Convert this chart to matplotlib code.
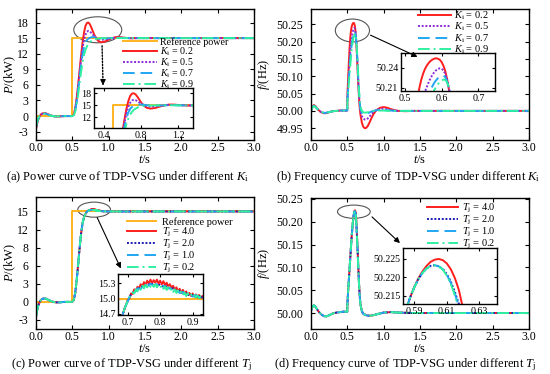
import matplotlib
matplotlib.use('Agg')
import matplotlib.pyplot as plt
from matplotlib.patches import Ellipse, FancyArrowPatch

plt.rcParams['font.family'] = ['Liberation Serif', 'DejaVu Serif']
plt.rcParams['mathtext.fontset'] = 'custom'
plt.rcParams['mathtext.rm'] = 'Liberation Serif'
plt.rcParams['mathtext.it'] = 'Liberation Serif:italic'
plt.rcParams['axes.unicode_minus'] = False

# ---------------- data ----------------
t_ref = [0.0, 0.5, 0.5, 3.0]
p_ref = [0.0, 0.0, 15.0, 15.0]

# (a) power, different Ki
t_a = [0.0, 0.02, 0.04, 0.06, 0.08, 0.1, 0.13, 0.16, 0.2, 0.25, 0.3, 0.35, 0.4, 0.45, 0.5,
       0.52, 0.54, 0.56, 0.58, 0.6, 0.62, 0.64, 0.66, 0.68, 0.7, 0.72, 0.74, 0.76, 0.78, 0.8,
       0.83, 0.86, 0.9, 0.95, 1.0, 1.05, 1.1, 1.15, 1.2, 1.3, 1.4, 1.6, 2.0, 2.5, 3.0]
p_a_ki02 = [-2.5, -1.2, -0.3, 0.2, 0.45, 0.55, 0.55, 0.4, 0.15, -0.05, -0.1, -0.05, 0.0, 0.0, 0.0,
            0.3, 1.5, 3.5, 6.0, 8.8, 11.6, 14.1, 16.0, 17.3, 17.9, 18.0, 17.7, 17.1, 16.4, 15.7,
            14.9, 14.4, 14.2, 14.35, 14.7, 15.0, 15.2, 15.2, 15.1, 14.95, 15.0, 15.0, 15.0, 15.0, 15.0]
p_a_ki05 = [-2.3, -1.1, -0.3, 0.2, 0.4, 0.5, 0.5, 0.35, 0.12, -0.05, -0.08, -0.04, 0.0, 0.0, 0.0,
            0.25, 1.3, 3.2, 5.6, 8.2, 10.8, 13.0, 14.6, 15.6, 16.2, 16.4, 16.3, 16.0, 15.7, 15.4,
            15.0, 14.8, 14.7, 14.75, 14.9, 15.0, 15.1, 15.1, 15.05, 15.0, 15.0, 15.0, 15.0, 15.0, 15.0]
p_a_ki07 = [-2.2, -1.0, -0.25, 0.2, 0.4, 0.48, 0.48, 0.33, 0.1, -0.05, -0.07, -0.03, 0.0, 0.0, 0.0,
            0.2, 1.1, 2.8, 5.0, 7.4, 9.8, 11.8, 13.2, 14.1, 14.6, 14.9, 15.05, 15.15, 15.2, 15.2,
            15.15, 15.05, 15.0, 14.95, 14.97, 15.0, 15.05, 15.05, 15.02, 15.0, 15.0, 15.0, 15.0, 15.0, 15.0]
p_a_ki09 = [-2.0, -0.9, -0.2, 0.2, 0.38, 0.45, 0.45, 0.3, 0.08, -0.05, -0.06, -0.03, 0.0, 0.0, 0.0,
            0.15, 0.9, 2.3, 4.2, 6.4, 8.5, 10.3, 11.7, 12.7, 13.4, 13.9, 14.2, 14.45, 14.6, 14.75,
            14.85, 14.92, 14.97, 15.0, 15.0, 15.0, 15.02, 15.02, 15.0, 15.0, 15.0, 15.0, 15.0, 15.0, 15.0]

# (b) frequency, different Ki
t_b = [0.0, 0.02, 0.04, 0.06, 0.08, 0.1, 0.14, 0.18, 0.22, 0.26, 0.3, 0.35, 0.4, 0.45, 0.499,
       0.501, 0.51, 0.52, 0.53, 0.535, 0.54, 0.545, 0.55, 0.555, 0.56, 0.565, 0.57, 0.575, 0.58, 0.585,
       0.59, 0.595, 0.6, 0.605, 0.61, 0.615, 0.62, 0.625, 0.63, 0.64, 0.65, 0.66, 0.67, 0.68, 0.7,
       0.72, 0.74, 0.76, 0.78, 0.8, 0.83, 0.86, 0.9, 0.95, 1.0, 1.05, 1.1, 1.15, 1.2, 1.3,
       1.4, 1.6, 2.0, 2.5, 3.0]
f_b_ki02 = [50.0, 50.013, 50.017, 50.014, 50.008, 50.003, 49.996, 49.993, 49.994, 49.997, 49.999, 50.0, 50.001, 50.001, 50.001,
            50.045, 50.09, 50.135, 50.178, 50.195, 50.21, 50.222, 50.231, 50.238, 50.243, 50.247, 50.25, 50.252, 50.2535, 50.254,
            50.2535, 50.252, 50.2485, 50.243, 50.235, 50.223, 50.207, 50.19, 50.17, 50.125, 50.08, 50.04, 50.01, 49.99, 49.966,
            49.954, 49.95, 49.951, 49.956, 49.964, 49.978, 49.991, 50.002, 50.009, 50.011, 50.009, 50.005, 50.002, 50.0, 49.999,
            50.0, 50.0, 50.0, 50.0, 50.0]
f_b_ki05 = [50.0, 50.012, 50.016, 50.013, 50.008, 50.003, 49.996, 49.994, 49.995, 49.997, 49.999, 50.0, 50.001, 50.001, 50.001,
            50.035, 50.07, 50.105, 50.14, 50.156, 50.17, 50.184, 50.195, 50.204, 50.211, 50.218, 50.224, 50.229, 50.233, 50.236,
            50.238, 50.239, 50.2385, 50.236, 50.231, 50.222, 50.21, 50.195, 50.177, 50.135, 50.09, 50.05, 50.02, 50.0, 49.985,
            49.978, 49.975, 49.975, 49.978, 49.982, 49.99, 49.997, 50.003, 50.006, 50.006, 50.004, 50.002, 50.001, 50.0, 50.0,
            50.0, 50.0, 50.0, 50.0, 50.0]
f_b_ki07 = [50.0, 50.011, 50.015, 50.012, 50.007, 50.003, 49.997, 49.994, 49.995, 49.997, 49.999, 50.0, 50.001, 50.001, 50.001,
            50.03, 50.06, 50.09, 50.12, 50.134, 50.148, 50.16, 50.172, 50.182, 50.191, 50.199, 50.206, 50.212, 50.217, 50.221,
            50.224, 50.226, 50.2275, 50.228, 50.226, 50.219, 50.209, 50.196, 50.18, 50.14, 50.095, 50.055, 50.025, 50.006, 49.994,
            49.99, 49.99, 49.991, 49.993, 49.995, 49.998, 50.0, 50.002, 50.003, 50.003, 50.002, 50.001, 50.0, 50.0, 50.0,
            50.0, 50.0, 50.0, 50.0, 50.0]
f_b_ki09 = [50.0, 50.01, 50.014, 50.012, 50.007, 50.003, 49.997, 49.995, 49.995, 49.997, 49.999, 50.0, 50.001, 50.001, 50.001,
            50.025, 50.05, 50.078, 50.105, 50.118, 50.13, 50.143, 50.155, 50.166, 50.176, 50.185, 50.193, 50.2, 50.206, 50.211,
            50.215, 50.218, 50.2205, 50.222, 50.222, 50.218, 50.21, 50.198, 50.183, 50.145, 50.1, 50.06, 50.03, 50.012, 50.0,
            49.996, 49.995, 49.995, 49.996, 49.997, 49.999, 50.0, 50.001, 50.001, 50.001, 50.0, 50.0, 50.0, 50.0, 50.0,
            50.0, 50.0, 50.0, 50.0, 50.0]

# (c) power, different Tj
t_c_rise = [0.0, 0.02, 0.04, 0.06, 0.08, 0.1, 0.13, 0.16, 0.2, 0.25, 0.3, 0.35, 0.4, 0.45, 0.5,
            0.52, 0.54, 0.56, 0.58, 0.6, 0.62, 0.64, 0.66, 0.68, 0.69]
p_c_rise = [-2.4, -1.1, -0.3, 0.2, 0.45, 0.55, 0.55, 0.4, 0.15, -0.05, -0.1, -0.05, 0.0, 0.0, 0.0,
            0.3, 1.5, 3.6, 6.2, 8.9, 11.3, 13.0, 14.0, 14.6, 14.8]
t_c_fine = [0.700, 0.705, 0.710, 0.715, 0.720, 0.725, 0.730, 0.735, 0.740, 0.745, 0.750, 0.755,
            0.760, 0.765, 0.770, 0.775, 0.780, 0.785, 0.790, 0.795, 0.800, 0.805, 0.810, 0.815,
            0.820, 0.825, 0.830, 0.835, 0.840, 0.845, 0.850, 0.855, 0.860, 0.865, 0.870, 0.875,
            0.880, 0.885, 0.890, 0.895, 0.900, 0.905, 0.910, 0.915, 0.920, 0.925, 0.930]
t_c_coarse = [0.70, 0.71, 0.72, 0.73, 0.74, 0.75, 0.76, 0.77, 0.78, 0.79, 0.80, 0.81,
              0.82, 0.83, 0.84, 0.85, 0.86, 0.87, 0.88, 0.89, 0.90, 0.91, 0.92, 0.93]
t_c_tail = [0.95, 1.0, 1.1, 1.2, 1.5, 2.0, 3.0]
p_c_tail = [15.02, 15.01, 15.0, 15.0, 15.0, 15.0, 15.0]
p_c_tj40 = [14.97, 15.00, 15.10, 15.09, 15.18, 15.15, 15.23, 15.20, 15.28, 15.24, 15.32, 15.27,
            15.35, 15.29, 15.37, 15.30, 15.36, 15.31, 15.37, 15.29, 15.35, 15.28, 15.34, 15.26,
            15.31, 15.24, 15.28, 15.21, 15.25, 15.17, 15.22, 15.15, 15.19, 15.12, 15.17, 15.10,
            15.14, 15.07, 15.11, 15.05, 15.10, 15.04, 15.08, 15.02, 15.07, 15.02, 15.05]
p_c_tj20 = [14.95, 15.08, 15.14, 15.18, 15.23, 15.24, 15.28, 15.27, 15.29, 15.26, 15.27, 15.23,
            15.24, 15.19, 15.20, 15.15, 15.15, 15.10, 15.11, 15.06, 15.07, 15.03, 15.05, 15.02]
p_c_tj10 = [14.95, 15.09, 15.11, 15.20, 15.19, 15.26, 15.24, 15.29, 15.25, 15.28, 15.23, 15.25,
            15.19, 15.21, 15.15, 15.17, 15.11, 15.13, 15.07, 15.10, 15.04, 15.07, 15.02, 15.04]
p_c_tj02 = [14.96, 15.03, 15.04, 15.12, 15.10, 15.18, 15.14, 15.22, 15.17, 15.25, 15.20, 15.27,
            15.22, 15.28, 15.23, 15.29, 15.23, 15.28, 15.22, 15.27, 15.21, 15.26, 15.19, 15.24,
            15.17, 15.22, 15.15, 15.20, 15.13, 15.18, 15.11, 15.16, 15.09, 15.14, 15.07, 15.12,
            15.05, 15.10, 15.04, 15.08, 15.03, 15.07, 15.02, 15.06, 15.01, 15.05, 15.02]

# (d) frequency, different Tj
t_d = [0.0, 0.02, 0.04, 0.06, 0.08, 0.1, 0.14, 0.18, 0.22, 0.26, 0.3, 0.35, 0.4, 0.45, 0.499,
       0.501, 0.51, 0.52, 0.53, 0.54, 0.55, 0.56, 0.57, 0.575, 0.58,
       0.5825, 0.585, 0.5875, 0.59, 0.5925, 0.595, 0.5975, 0.6, 0.6025, 0.605,
       0.6075, 0.61, 0.6125, 0.615, 0.6175, 0.62, 0.6225, 0.625, 0.63, 0.64,
       0.65, 0.66, 0.67, 0.68, 0.7, 0.72, 0.76, 0.8, 0.85, 0.9,
       1.0, 1.1, 1.2, 1.4, 2.0, 3.0]
f_d_start = [50.005, 50.014, 50.017, 50.014, 50.009, 50.004, 49.997, 49.993, 49.993, 49.996, 49.999, 50.001, 50.002, 50.003, 50.003,
             50.02, 50.045, 50.07, 50.095, 50.12, 50.145, 50.168, 50.188, 50.197, 50.2037]
f_d_tj40 = f_d_start + [50.2078, 50.2114, 50.2146, 50.2174, 50.2197, 50.2216, 50.2231, 50.2242, 50.2248, 50.225,
                        50.2247, 50.2238, 50.2222, 50.2198, 50.2165, 50.2115, 50.205, 50.197, 50.18, 50.145,
                        50.105, 50.068, 50.04, 50.02, 50.004, 49.998, 49.995, 49.994, 49.995, 49.997,
                        50.001, 50.002, 50.001, 50.0, 50.0, 50.0]
f_d_tj20 = f_d_start + [50.2078, 50.2114, 50.2146, 50.2173, 50.2195, 50.2212, 50.2224, 50.2231, 50.2233, 50.2230,
                        50.2223, 50.2209, 50.2188, 50.2160, 50.2127, 50.2075, 50.2005, 50.1925, 50.176, 50.142,
                        50.103, 50.066, 50.039, 50.019, 50.004, 49.998, 49.995, 49.994, 49.995, 49.997,
                        50.001, 50.002, 50.001, 50.0, 50.0, 50.0]
f_d_tj10 = f_d_start + [50.2078, 50.2114, 50.2146, 50.2173, 50.2195, 50.2212, 50.2224, 50.2231, 50.2233, 50.2230,
                        50.2222, 50.2207, 50.2185, 50.2155, 50.2120, 50.2070, 50.2000, 50.1920, 50.176, 50.142,
                        50.103, 50.066, 50.039, 50.019, 50.004, 49.998, 49.995, 49.994, 49.995, 49.997,
                        50.001, 50.002, 50.001, 50.0, 50.0, 50.0]
f_d_tj02 = f_d_start + [50.2078, 50.2114, 50.2146, 50.2173, 50.2195, 50.2212, 50.2224, 50.2231, 50.2233, 50.2230,
                        50.2221, 50.2205, 50.2182, 50.2150, 50.2115, 50.2065, 50.1995, 50.1915, 50.175, 50.141,
                        50.102, 50.065, 50.038, 50.019, 50.004, 49.998, 49.995, 49.994, 49.995, 49.997,
                        50.001, 50.002, 50.001, 50.0, 50.0, 50.0]

ki_labels = [r'$K_\mathrm{i}$ = 0.2', r'$K_\mathrm{i}$ = 0.5', r'$K_\mathrm{i}$ = 0.7', r'$K_\mathrm{i}$ = 0.9']
tj_labels = [r'$T_\mathrm{j}$ = 4.0', r'$T_\mathrm{j}$ = 2.0', r'$T_\mathrm{j}$ = 1.0', r'$T_\mathrm{j}$ = 0.2']
ref_label = 'Reference power'
x_ticks = [0.0, 0.5, 1.0, 1.5, 2.0, 2.5, 3.0]
captions = [r'(a) Power curve of TDP-VSG under different $K_\mathrm{i}$',
            r'(b) Frequency curve of TDP-VSG under different $K_\mathrm{i}$',
            r'(c) Power curve of TDP-VSG under different $T_\mathrm{j}$',
            r'(d) Frequency curve of TDP-VSG under different $T_\mathrm{j}$']

# ---------------- styles ----------------
C_REF = '#FFB41E'
C_RED = '#FF1E1E'
C_PUR = '#8C2BD8'
C_NAVY = '#1C1CB4'
C_SKY = '#21A6F2'
C_GRN = '#2EF0A0'
LW = 1.4
ST_REF = dict(color=C_REF, lw=LW, ls='-')
ST_1 = dict(color=C_RED, lw=LW, ls='-')
ST_2 = dict(color=C_PUR, lw=LW, ls=(0, (1.0, 0.9)))
ST_2N = dict(color=C_NAVY, lw=LW, ls=(0, (1.0, 0.9)))
ST_3 = dict(color=C_SKY, lw=LW, ls=(0, (6, 3)))
ST_4 = dict(color=C_GRN, lw=LW, ls=(0, (6, 2, 1, 2)))

W, H = 550, 374
fig = plt.figure(figsize=(W / 100, H / 100), dpi=100)


def rect(l, t, r, b):
    return [l / W, 1 - b / H, (r - l) / W, (b - t) / H]


def fp(x, y):
    return (x / W, 1 - y / H)


TFS = 8.5
IFS = 7.2
LFS = 9


def style_main(ax):
    ax.tick_params(direction='in', top=True, right=True, length=3, width=0.8,
                   labelsize=TFS)
    ax.tick_params(axis='x', pad=1.5)
    ax.tick_params(axis='y', pad=5.5)
    for s in ax.spines.values():
        s.set_linewidth(1.0)


def style_inset(ax):
    ax.tick_params(direction='in', top=True, right=True, length=2.5, width=0.8,
                   labelsize=IFS, pad=2)
    for s in ax.spines.values():
        s.set_linewidth(1.0)


def arrow(p0, p1, dotted=False):
    if dotted:
        fig.add_artist(FancyArrowPatch(fp(*p0), fp(p1[0], p1[1] - 5), transform=fig.transFigure,
                                       arrowstyle='-', lw=1.0, ls=(0, (1, 1.2)), color='k'))
        fig.add_artist(FancyArrowPatch(fp(p1[0], p1[1] - 7), fp(*p1), transform=fig.transFigure,
                                       arrowstyle='-|>', mutation_scale=8, lw=0.8, color='k'))
    else:
        fig.add_artist(FancyArrowPatch(fp(*p0), fp(*p1), transform=fig.transFigure,
                                       arrowstyle='-|>', mutation_scale=8, lw=0.8, color='k'))


def legend(ax, handles, labels, x, y, hl, hp, ls, fs=7.5):
    ax.legend(handles, labels, loc='upper left', bbox_to_anchor=fp(x, y),
              bbox_transform=fig.transFigure, frameon=False, fontsize=fs,
              handlelength=hl, handletextpad=hp, labelspacing=ls, borderpad=0,
              borderaxespad=0)


def labels(ax, ylab, ycoord):
    ax.set_xlabel(r'$t$/s', fontsize=LFS, labelpad=0.3)
    ax.set_ylabel(ylab, fontsize=LFS)
    ax.yaxis.set_label_coords(ycoord, 0.5)


# ---------------- (a) ----------------
ax = fig.add_axes(rect(36, 9, 254, 140))
h0, = ax.plot(t_ref, p_ref, **ST_REF)
h1, = ax.plot(t_a, p_a_ki02, **ST_1)
h2, = ax.plot(t_a, p_a_ki05, **ST_2)
h3, = ax.plot(t_a, p_a_ki07, **ST_3)
h4, = ax.plot(t_a, p_a_ki09, **ST_4)
ax.set_xlim(0, 3)
ax.set_ylim(-4.6, 20.6)
ax.set_xticks(x_ticks)
ax.set_xticklabels([f'{v:.1f}' for v in x_ticks])
ax.set_yticks([-3, 0, 3, 6, 9, 12, 15, 18])
ax.set_yticklabels(['-3', '0', '3', '6', '9', '12', '15', '18'])
style_main(ax)
labels(ax, r'$P$/(kW)', -0.083)
ax.add_patch(Ellipse((0.85, 16.6), 0.66, 5.0, fill=False, ec='#555555', lw=0.8))
legend(ax, [h0, h1, h2, h3, h4], [ref_label] + ki_labels, 123, 37, 3.4, 0.35, -0.15, fs=7.2)
arrow((102, 43), (103, 88), dotted=True)

axi = fig.add_axes(rect(94, 88, 193, 128))
axi.plot(t_ref, p_ref, **ST_REF)
axi.plot(t_a, p_a_ki02, **ST_1)
axi.plot(t_a, p_a_ki05, **ST_2)
axi.plot(t_a, p_a_ki07, **ST_3)
axi.plot(t_a, p_a_ki09, **ST_4)
axi.set_xlim(0.29, 1.36)
axi.set_ylim(9.4, 19.3)
axi.set_xticks([0.4, 0.8, 1.2])
axi.set_xticklabels(['0.4', '0.8', '1.2'])
axi.set_yticks([12, 15, 18])
style_inset(axi)

# ---------------- (b) ----------------
ax = fig.add_axes(rect(311, 9, 529, 140))
h1, = ax.plot(t_b, f_b_ki02, **ST_1)
h2, = ax.plot(t_b, f_b_ki05, **ST_2)
h3, = ax.plot(t_b, f_b_ki07, **ST_3)
h4, = ax.plot(t_b, f_b_ki09, **ST_4)
ax.set_xlim(0, 3)
ax.set_ylim(49.916, 50.294)
ax.set_xticks(x_ticks)
ax.set_xticklabels([f'{v:.1f}' for v in x_ticks])
fy = [49.95, 50.0, 50.05, 50.1, 50.15, 50.2, 50.25]
ax.set_yticks(fy)
ax.set_yticklabels([f'{v:.2f}' for v in fy])
style_main(ax)
labels(ax, r'$f$/(Hz)', -0.179)
ax.add_patch(Ellipse((0.57, 50.232), 0.47, 0.066, fill=False, ec='#555555', lw=0.8))
legend(ax, [h1, h2, h3, h4], ki_labels, 418, 9.5, 3.2, 0.3, -0.1)
arrow((368, 34), (420, 58))

axi = fig.add_axes(rect(401, 53, 495, 91))
axi.plot(t_b, f_b_ki02, **ST_1)
axi.plot(t_b, f_b_ki05, **ST_2)
axi.plot(t_b, f_b_ki07, **ST_3)
axi.plot(t_b, f_b_ki09, **ST_4)
axi.set_xlim(0.49, 0.745)
axi.set_ylim(50.205, 50.262)
axi.set_xticks([0.5, 0.6, 0.7])
axi.set_xticklabels(['0.5', '0.6', '0.7'])
axi.set_yticks([50.21, 50.24])
axi.set_yticklabels(['50.21', '50.24'])
style_inset(axi)

# ---------------- (c) ----------------
ax = fig.add_axes(rect(36, 197, 254, 329))
series_c = [(t_c_fine, p_c_tj40, ST_1), (t_c_coarse, p_c_tj20, ST_2N),
            (t_c_coarse, p_c_tj10, ST_3), (t_c_fine, p_c_tj02, ST_4)]
h0, = ax.plot(t_ref, p_ref, **ST_REF)
hs = []
for tm, pm, st in series_c:
    h, = ax.plot(t_c_rise + tm + t_c_tail, p_c_rise + pm + p_c_tail, **st)
    hs.append(h)
ax.set_xlim(0, 3)
ax.set_ylim(-4.5, 17.4)
ax.set_xticks(x_ticks)
ax.set_xticklabels([f'{v:.1f}' for v in x_ticks])
ax.set_yticks([-3, 0, 3, 6, 9, 12, 15])
ax.set_yticklabels(['-3', '0', '3', '6', '8', '12', '15'])
style_main(ax)
labels(ax, r'$P$/(kW)', -0.083)
ax.add_patch(Ellipse((0.80, 15.3), 0.45, 2.5, fill=False, ec='#555555', lw=0.8))
legend(ax, [h0] + hs, [ref_label] + tj_labels, 127, 217, 2.8, 0.6, -0.1)
arrow((96, 215), (122, 271))

axi = fig.add_axes(rect(118, 274, 203, 315))
axi.plot(t_ref, p_ref, **ST_REF)
for tm, pm, st in series_c:
    axi.plot(t_c_rise + tm + t_c_tail, p_c_rise + pm + p_c_tail, **st)
axi.set_xlim(0.67, 0.932)
axi.set_ylim(14.68, 15.48)
axi.set_xticks([0.7, 0.8, 0.9])
axi.set_xticklabels(['0.7', '0.8', '0.9'])
axi.set_yticks([14.7, 15.0, 15.3])
axi.set_yticklabels(['14.7', '15.0', '15.3'])
style_inset(axi)

# ---------------- (d) ----------------
ax = fig.add_axes(rect(311, 198, 529, 329))
series_d = [(f_d_tj40, ST_1), (f_d_tj20, ST_2N), (f_d_tj10, ST_3), (f_d_tj02, ST_4)]
hs = []
for fd, st in series_d:
    h, = ax.plot(t_d, fd, **st)
    hs.append(h)
ax.set_xlim(0, 3)
ax.set_ylim(49.965, 50.252)
ax.set_xticks(x_ticks)
ax.set_xticklabels([f'{v:.1f}' for v in x_ticks])
fy = [50.0, 50.05, 50.1, 50.15, 50.2, 50.25]
ax.set_yticks(fy)
ax.set_yticklabels([f'{v:.2f}' for v in fy])
style_main(ax)
labels(ax, r'$f$/(Hz)', -0.179)
ax.add_patch(Ellipse((0.59, 50.222), 0.45, 0.029, fill=False, ec='#555555', lw=0.8))
legend(ax, hs, tj_labels, 427, 202, 3.0, 0.4, -0.1)
arrow((370, 215), (402, 245))

axi = fig.add_axes(rect(403, 248, 497, 304))
for fd, st in series_d:
    axi.plot(t_d, fd, **st)
axi.set_xlim(0.583, 0.641)
axi.set_ylim(50.2127, 50.228)
axi.set_xticks([0.59, 0.61, 0.63])
axi.set_xticklabels(['0.59', '0.61', '0.63'])
axi.set_yticks([50.215, 50.22, 50.225])
axi.set_yticklabels(['50.215', '50.220', '50.225'])
style_inset(axi)

# ---------------- captions ----------------
CFS = 9
fig.text(*fp(127, 177), captions[0], ha='center', va='center', fontsize=CFS)
fig.text(*fp(408, 177), captions[1], ha='center', va='center', fontsize=CFS)
fig.text(*fp(131, 365), captions[2], ha='center', va='center', fontsize=CFS)
fig.text(*fp(405, 365), captions[3], ha='center', va='center', fontsize=CFS)

fig.savefig('out.png', dpi=100)
